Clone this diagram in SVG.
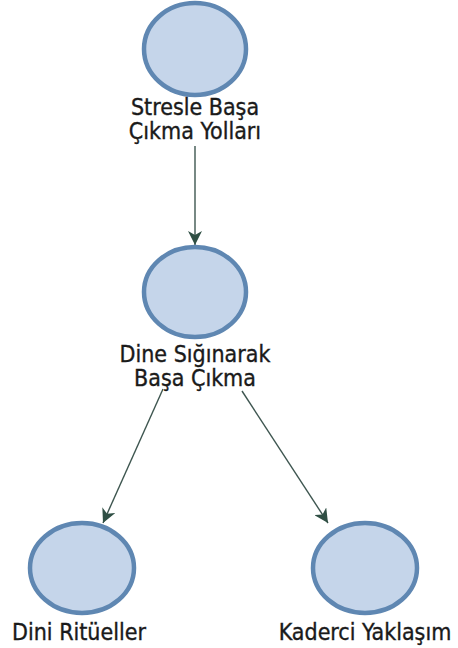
<svg xmlns="http://www.w3.org/2000/svg" width="458" height="648" viewBox="0 0 458 648">
<style>
.node{fill:#c5d5ea;stroke:#5f87b2;stroke-width:4.5}
.lbl{font-family:"DejaVu Sans Condensed","DejaVu Sans",sans-serif;font-stretch:condensed;font-size:23px;fill:#1a1a1a;stroke:#1a1a1a;stroke-width:0.35;text-anchor:middle}
.edge{stroke:#3e5650;stroke-width:1.4;fill:none;marker-end:url(#arr)}
</style>
<defs>
<marker id="arr" markerUnits="userSpaceOnUse" markerWidth="16" markerHeight="14" refX="14" refY="7" orient="auto">
<path d="M0,0 L14,7 L0,14 L4,7 z" fill="#2f4f44"/>
</marker>
</defs>
<rect width="458" height="648" fill="#ffffff"/>
<g id="edges">
<line class="edge" x1="195" y1="146" x2="195" y2="245"/>
<line class="edge" x1="163" y1="389" x2="103" y2="523"/>
<line class="edge" x1="242" y1="391" x2="328" y2="523"/>
</g>
<g id="n1">
<ellipse class="node" cx="195" cy="49" rx="51" ry="46"/>
<text class="lbl" x="195" y="114.5">Stresle Başa</text>
<text class="lbl" x="195" y="138.5">Çıkma Yolları</text>
</g>
<g id="n2">
<ellipse class="node" cx="195" cy="292" rx="51" ry="45"/>
<text class="lbl" x="195" y="361.5">Dine Sığınarak</text>
<text class="lbl" x="195" y="385.5">Başa Çıkma</text>
</g>
<g id="n3">
<ellipse class="node" cx="82" cy="568" rx="52" ry="45"/>
<text class="lbl" x="79" y="640">Dini Ritüeller</text>
</g>
<g id="n4">
<ellipse class="node" cx="365" cy="568" rx="52" ry="45"/>
<text class="lbl" x="365" y="640">Kaderci Yaklaşım</text>
</g>
</svg>
